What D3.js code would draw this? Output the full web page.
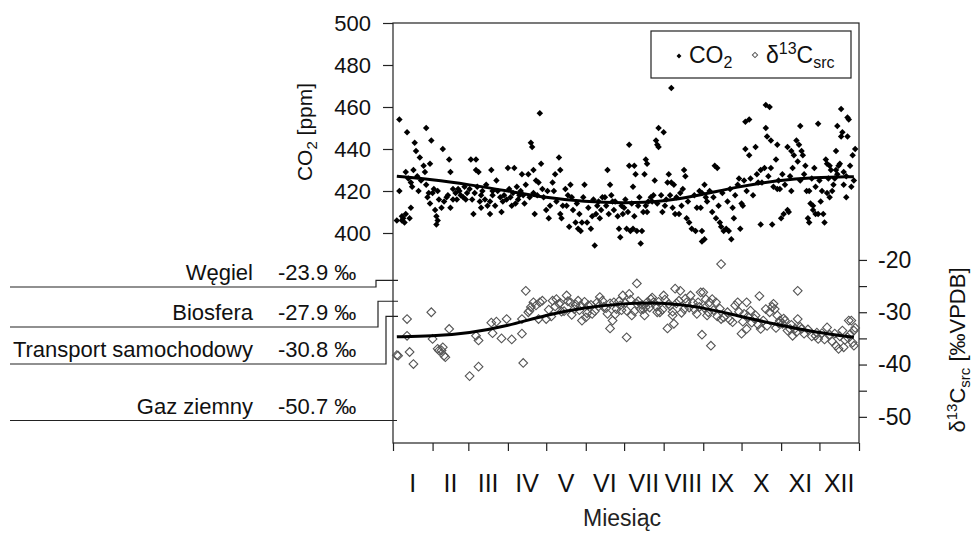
<!DOCTYPE html>
<html>
<head>
<meta charset="utf-8">
<script src="https://cdn.jsdelivr.net/npm/d3@7"></script>
<style>
  body { margin: 0; background: #fff; }
  svg { display: block; font-family: "Liberation Sans", Arial, sans-serif; }
</style>
</head>
<body>
<div id="chart"></div>
<script>
"use strict";

// month labels and month boundaries (day of year)
const monthLabels = ["I","II","III","IV","V","VI","VII","VIII","IX","X","XI","XII"];
const monthStarts = [0,31,59,90,120,151,181,212,243,273,304,334,365];

// isotopic signatures of CO2 sources
const sourceNames = ["Węgiel","Biosfera","Transport samochodowy","Gaz ziemny"];
const sourceValues = [-23.9,-27.9,-30.8,-50.7];

const co2Ticks = [400,420,440,460,480,500];
const deltaTicks = [-50,-40,-30,-20];
const deltaMinorTicks = [-45,-35,-25];

// daily CO2 [ppm] : [day, value]
const co2Points = [
  [3,406],[5,454],[5,420],[7,406],[9,405],[7,408],[8,407],[10,409],[11,448],[10,429],[14,424],[14,412],[13,407],
  [12,426],[15,422],[17,443],[18,439],[16,430],[19,427],[20,420],[21,436],[22,425],[24,432],[25,429],[26,450],
  [26,423],[28,419],[29,433],[27,417],[30,444],[29,414],[31,419],[32,421],[33,411],[35,420],[34,408],[35,406],
  [34,404],[36,416],[38,412],[39,440],[40,415],[42,417],[44,435],[45,429],[43,418],[45,412],[47,421],[47,416],
  [49,419],[50,416],[51,421],[52,420],[53,418],[55,417],[56,422],[57,416],[58,419],[60,421],[61,435],[62,416],
  [63,409],[64,419],[65,435],[65,430],[67,429],[66,422],[68,415],[69,418],[69,412],[70,420],[72,416],[73,423],
  [74,413],[76,415],[77,430],[76,409],[78,420],[78,418],[80,413],[81,425],[82,420],[84,417],[85,410],[86,415],
  [87,418],[89,416],[90,431],[91,421],[92,417],[93,413],[94,419],[95,431],[96,414],[97,422],[98,416],[99,418],
  [100,420],[101,428],[102,418],[103,414],[104,423],[106,428],[107,417],[108,443],[109,441],[110,430],[110,419],
  [111,409],[112,425],[113,418],[114,424],[115,457],[116,433],[117,421],[118,417],[120,411],
  [121,420],[122,407],[123,413],[125,424],[126,420],[127,428],[128,415],[130,436],[131,430],[131,409],[132,407],
  [133,413],[135,421],[136,413],[137,418],[138,403],[139,423],[140,417],[141,411],[143,405],[144,414],[145,402],
  [146,409],[147,401],[148,405],[149,417],[150,423],[152,405],[153,412],[155,402],[156,408],[157,416],[158,394],
  [159,409],[160,413],[161,415],[162,407],[163,411],[164,417],[166,417],[167,413],[168,430],[169,409],[170,423],
  [171,418],[172,415],[173,411],[174,415],[176,408],[177,402],[178,398],[179,413],[180,409],[181,412],[182,416],
  [183,402],[184,410],[185,442],[185,432],[186,401],[187,414],[188,422],[188,402],[189,432],[189,408],[190,428],
  [191,401],[192,413],[193,417],[194,395],[195,401],[196,410],[197,428],[198,435],[198,413],[199,433],[199,410],
  [200,415],[202,417],[203,415],[204,418],[205,425],[206,444],[207,442],[207,414],[208,441],[208,450],[210,418],
  [211,410],[212,448],[213,413],[214,416],[215,424],[216,428],[217,418],[218,469],[218,424],[219,412],[220,423],
  [221,409],[222,417],[224,409],[225,419],[226,413],[227,421],[228,430],[229,427],[230,407],[231,415],[232,405],
  [234,402],[236,418],[237,401],[238,412],[240,420],[241,412],[242,419],[242,396],
  [242,401],[244,423],[244,397],[245,417],[246,415],[248,420],[250,410],[251,417],[252,432],[253,407],[254,431],
  [255,413],[256,405],[257,403],[258,419],[259,401],[261,402],[262,415],[263,401],[264,421],[265,397],[266,412],
  [267,407],[268,418],[270,423],[271,426],[272,402],[273,414],[274,413],[275,425],[276,453],[276,440],[277,420],
  [279,454],[279,437],[280,426],[282,418],[284,441],[285,428],[286,424],[288,430],[288,404],[289,424],[291,431],
  [292,461],[292,450],[293,446],[294,427],[295,460],[296,444],[296,431],[297,404],[298,422],[300,435],[301,442],
  [301,421],[302,425],[303,421],[304,407],[305,428],[306,409],[307,423],[309,411],[309,441],[310,410],[311,427],
  [312,439],[312,420],[313,431],[314,437],[316,444],[317,434],[318,442],[319,451],[319,425],[320,439],[321,437],
  [322,428],[323,432],[324,420],[325,407],[326,405],[326,420],[327,414],[328,426],[329,413],[329,411],[330,431],
  [331,409],[331,422],[333,409],[333,452],[334,425],[335,415],[336,420],[337,409],[338,405],[339,435],[340,433],
  [340,419],[341,426],[342,432],[342,417],[343,430],[344,420],[345,423],[346,426],[347,439],[347,430],[348,451],
  [348,428],[349,432],[350,433],[351,446],[351,459],[352,448],[353,429],[353,423],[355,417],[355,427],[356,455],
  [356,446],[357,454],[358,432],[359,422],[360,437],[361,425],[362,440]
];

// delta13C of the CO2 source [permil VPDB] : [day, value]
const deltaPoints = [
  [3,-38.2],[4,-38.3],[11,-31.3],[11,-34.5],[13,-37.6],[16,-39.9],[30,-30.0],[31,-35.1],[35,-37.0],[36,-37.3],
  [38,-37.3],[39,-36.7],[40,-38.3],[41,-38.6],[44,-33.2],[60,-42.2],[65,-34.5],[67,-35.4],[67,-40.4],[77,-32.0],
  [78,-34.0],[81,-31.8],[85,-35.0],[89,-31.3],[93,-35.2],[101,-31.3],[101,-34.1],[102,-39.7],[104,-25.9],
  [106,-30.0],[107,-29.7],[108,-29.0],[110,-28.1],[112,-28.7],[114,-31.3],[115,-28.1],[117,-27.8],[120,-31.3],
  [122,-29.5],[124,-30.8],[125,-27.8],[127,-28.9],[128,-27.5],[130,-28.4],[131,-28.2],[132,-29.9],[134,-29.8],
  [136,-26.8],[137,-27.9],[139,-28.1],[140,-30.5],[142,-29.4],[143,-28.5],[145,-27.8],[146,-29.6],[147,-28.7],
  [148,-31.6],[150,-28.0],[151,-31.0],[152,-30.2],[153,-28.7],[155,-28.6],[156,-30.3],[158,-29.8],[160,-28.1],
  [161,-28.9],[162,-27.1],[164,-27.8],[165,-29.0],[167,-29.2],[168,-30.3],[170,-33.1],[170,-28.3],[172,-31.6],
  [173,-28.1],[174,-30.4],[175,-29.4],[177,-27.9],[178,-28.7],[179,-29.6],[180,-26.8],[182,-28.2],[183,-34.8],
  [183,-29.7],[185,-26.5],[186,-27.6],[187,-30.6],[189,-29.8],[191,-24.5],[191,-28.4],[192,-27.9],[194,-29.4],
  [195,-28.6],[196,-29.4],[197,-30.6],[198,-29.0],[199,-28.1],[201,-29.1],[202,-27.5],[203,-27.2],[204,-28.1],
  [206,-28.9],[207,-30.0],[208,-28.0],[209,-30.0],[211,-29.5],[212,-26.8],[213,-27.6],[215,-33.1],[216,-28.4],
  [217,-28.8],[219,-30.6],[219,-29.9],[220,-32.2],[221,-25.5],[222,-28.3],[224,-27.8],[225,-25.9],[226,-30.1],
  [228,-29.4],[229,-27.4],[230,-28.1],[232,-29.1],[233,-26.8],[235,-28.2],[236,-29.4],[238,-30.3],[239,-28.1],
  [240,-29.0],[241,-26.2],[242,-34.3],[243,-26.2],[244,-29.2],[245,-27.5],[246,-30.6],[247,-30.0],[248,-28.1],
  [249,-36.4],[250,-27.5],[251,-29.6],[253,-28.1],[254,-30.8],[256,-29.3],[257,-20.8],[257,-31.3],[259,-31.0],
  [262,-30.0],[264,-31.5],[266,-31.9],[268,-28.7],[270,-28.1],[271,-29.9],[273,-34.1],[274,-31.8],[275,-30.3],
  [277,-28.1],[277,-33.2],[278,-30.8],[280,-29.7],[281,-32.0],[283,-31.2],[284,-30.6],[286,-32.4],[287,-26.9],
  [288,-33.2],[290,-31.6],[292,-29.4],[293,-32.6],[295,-30.0],[297,-29.0],[298,-28.4],[299,-29.4],[300,-33.0],
  [301,-30.6],[302,-32.1],[303,-31.6],[305,-32.2],[306,-31.2],[307,-31.6],[309,-33.5],[311,-33.2],[312,-32.4],
  [313,-34.5],[315,-33.1],[316,-33.8],[317,-25.9],[317,-31.3],[319,-32.8],[320,-33.2],[322,-34.1],[325,-33.3],
  [328,-34.6],[331,-34.5],[332,-33.9],[333,-35.1],[336,-34.0],[338,-35.2],[340,-32.9],[342,-34.3],[344,-35.6],
  [346,-34.1],[347,-36.4],[349,-37.0],[350,-34.6],[352,-33.5],[353,-36.7],[354,-35.3],[356,-34.8],[357,-31.6],
  [358,-34.2],[359,-31.6],[360,-35.8],[361,-33.5],[361,-36.4],[362,-33.0]
];

// smoothed seasonal curves
const trendDays = [3,30,60,90,120,150,180,210,240,270,300,330,361];
const co2Trend = [427,425.5,423,420,416.8,414.9,414.2,414.8,418,422,425,426.5,426.8];
const deltaTrend = [-34.7,-34.6,-34.0,-32.6,-30.5,-29.1,-28.3,-28.1,-28.9,-30.7,-32.3,-33.8,-34.8];

// layout of the source annotation rows (pixels)
const rowLineY = [287,327,364,422];
const rowElbowX = [376,378,386,null];

const W = 975, H = 533;
const L = 393, R = 859, T = 23, B = 443;
const ink = "#222";

const svg = d3.select("#chart").append("svg").attr("width", W).attr("height", H);

const x = d3.scaleLinear().domain([0,365]).range([L,R]);
const yC = d3.scaleLinear().domain([300,500]).range([B,T]);
const yD = d3.scaleLinear().domain([-55,25.3]).range([B,T]);

// frame
svg.append("rect").attr("x", L).attr("y", T).attr("width", R - L).attr("height", B - T)
  .attr("fill", "none").attr("stroke", ink).attr("stroke-width", 1.2);

function styleAxis(g, size) {
  g.select(".domain").remove();
  g.selectAll(".tick line").attr("stroke", ink).attr("stroke-width", 1.2);
  g.selectAll(".tick text").attr("fill", "#111").style("font-size", size + "px")
    .style("font-family", "'Liberation Sans', Arial, sans-serif");
}

// left axis (CO2)
svg.append("g").attr("transform", `translate(${L},0)`)
  .call(d3.axisLeft(yC).tickValues(co2Ticks).tickSize(10).tickPadding(12).tickFormat(d => String(d)))
  .call(g => styleAxis(g, 22));

// right axis (delta)
svg.append("g").attr("transform", `translate(${R},0)`)
  .call(d3.axisRight(yD).tickValues(deltaTicks).tickSize(8).tickPadding(11).tickFormat(d => String(d)))
  .call(g => styleAxis(g, 23));
svg.append("g").attr("transform", `translate(${R},0)`)
  .call(d3.axisRight(yD).tickValues(deltaMinorTicks).tickSize(8).tickFormat(""))
  .call(g => styleAxis(g, 23));

// bottom axis: ticks at month boundaries, labels in the middle
svg.append("g").attr("transform", `translate(0,${B})`)
  .call(d3.axisBottom(x).tickValues(monthStarts).tickSize(8).tickFormat(""))
  .call(g => styleAxis(g, 22));

svg.append("g").selectAll("text").data(monthLabels).join("text")
  .attr("x", (d, i) => x((monthStarts[i] + monthStarts[i + 1]) / 2))
  .attr("y", B + 49)
  .attr("text-anchor", "middle")
  .attr("fill", "#111")
  .style("font-size", "25px")
  .text(d => d);

svg.append("text").attr("x", 622).attr("y", 526).attr("text-anchor", "middle")
  .attr("fill", "#222").style("font-size", "23px").text("Miesiąc");

// axis titles
const tl = svg.append("text").attr("transform", "translate(312,132) rotate(-90)")
  .attr("text-anchor", "middle").attr("fill", "#111").style("font-size", "21px");
tl.append("tspan").text("CO");
tl.append("tspan").attr("dy", 5).style("font-size", "15px").text("2");
tl.append("tspan").attr("dy", -5).text(" [ppm]");

const tr = svg.append("text").attr("transform", "translate(965,350) rotate(-90)")
  .attr("text-anchor", "middle").attr("fill", "#111").style("font-size", "22px");
tr.append("tspan").text("δ");
tr.append("tspan").attr("dy", -8).style("font-size", "15px").text("13");
tr.append("tspan").attr("dy", 8).text("C");
tr.append("tspan").attr("dy", 5).style("font-size", "15px").text("src");
tr.append("tspan").attr("dy", -5).text(" [‰VPDB]");

// source annotation rows
const rows = svg.append("g");
sourceNames.forEach((name, i) => {
  const ly = rowLineY[i];
  const vy = yD(sourceValues[i]);
  let pts;
  if (rowElbowX[i] === null) {
    pts = [[10, vy], [L + 4, vy]];
  } else {
    const ex = rowElbowX[i];
    pts = [[10, ly], [ex, ly], [ex, vy], [L + 5, vy]];
  }
  rows.append("path").attr("d", d3.line()(pts)).attr("fill", "none")
    .attr("stroke", ink).attr("stroke-width", 1.2);
  const ty = (rowElbowX[i] === null ? vy : ly) - 7;
  rows.append("text").attr("x", 253).attr("y", ty).attr("text-anchor", "end")
    .attr("fill", "#111").style("font-size", "22px").text(name);
  rows.append("text").attr("x", 278).attr("y", ty)
    .attr("fill", "#111").style("font-size", "22px").text(sourceValues[i].toFixed(1) + " ‰");
});

// scatter points
const filledDiamond = d3.symbol(d3.symbolSquare, 21)();
const openDiamond = d3.symbol(d3.symbolSquare, 38)();

svg.append("g").selectAll("path").data(deltaPoints).join("path")
  .attr("d", openDiamond)
  .attr("transform", d => `translate(${x(d[0])},${yD(d[1])}) rotate(45)`)
  .attr("fill", "none").attr("stroke", "#555").attr("stroke-width", 1.1);

svg.append("g").selectAll("path").data(co2Points).join("path")
  .attr("d", filledDiamond)
  .attr("transform", d => `translate(${x(d[0])},${yC(d[1])}) rotate(45)`)
  .attr("fill", "#000");

// seasonal curves
const co2Line = d3.line().curve(d3.curveBasis).x((d, i) => x(trendDays[i])).y(d => yC(d));
const deltaLine = d3.line().curve(d3.curveBasis).x((d, i) => x(trendDays[i])).y(d => yD(d));
svg.append("path").attr("d", co2Line(co2Trend)).attr("fill", "none")
  .attr("stroke", "#000").attr("stroke-width", 3);
svg.append("path").attr("d", deltaLine(deltaTrend)).attr("fill", "none")
  .attr("stroke", "#000").attr("stroke-width", 3);

// legend
const lg = svg.append("g");
lg.append("rect").attr("x", 651).attr("y", 31).attr("width", 200).attr("height", 47)
  .attr("fill", "#fff").attr("stroke", ink).attr("stroke-width", 1.2);
lg.append("path").attr("d", d3.symbol(d3.symbolSquare, 12)())
  .attr("transform", "translate(679,56) rotate(45)").attr("fill", "#000");
const lt1 = lg.append("text").attr("x", 689).attr("y", 63).attr("fill", "#111").style("font-size", "23px");
lt1.append("tspan").text("CO");
lt1.append("tspan").attr("dy", 5).style("font-size", "16px").text("2");
lg.append("path").attr("d", d3.symbol(d3.symbolSquare, 14)())
  .attr("transform", "translate(755,55) rotate(45)").attr("fill", "none")
  .attr("stroke", "#555").attr("stroke-width", 1);
const lt2 = lg.append("text").attr("x", 766).attr("y", 63).attr("fill", "#111").style("font-size", "23px");
lt2.append("tspan").text("δ");
lt2.append("tspan").attr("dy", -9).style("font-size", "16px").text("13");
lt2.append("tspan").attr("dy", 9).text("C");
lt2.append("tspan").attr("dy", 5).style("font-size", "16px").text("src");
</script>
</body>
</html>
